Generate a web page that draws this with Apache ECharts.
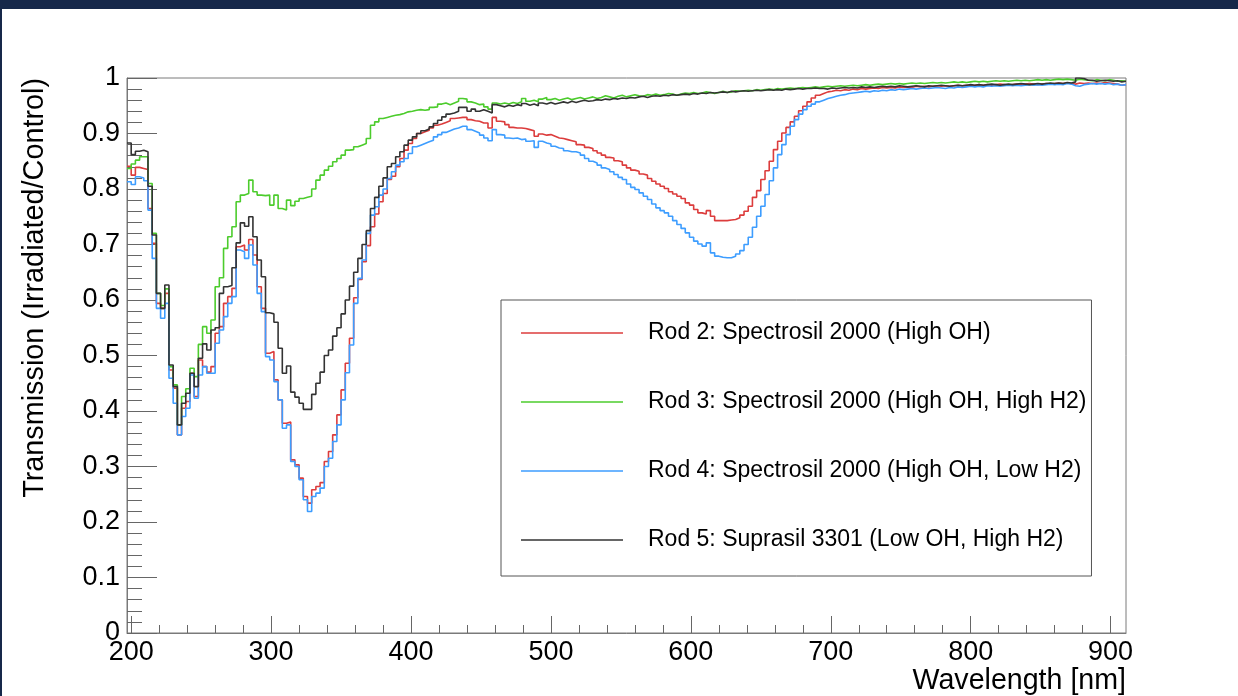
<!DOCTYPE html>
<html>
<head>
    <meta charset="utf-8">
    <title>Transmission after irradiation</title>
    <script src="https://cdn.jsdelivr.net/npm/echarts@6.0.0/dist/echarts.min.js"></script>
    <style>
        html, body { margin: 0; padding: 0; background: #fff; }
        #main { width: 1238px; height: 696px; }
    </style>
</head>
<body>
    <div id="main"></div>
    <script type="text/javascript">
        // histogram binning (nm): first edge, bin width, last edge
        var binStart = 197;
        var binWidth = 3;
        var binEnd = 911;

        var seriesNames = [
            'Rod 2: Spectrosil 2000 (High OH)',
            'Rod 3: Spectrosil 2000 (High OH, High H2)',
            'Rod 4: Spectrosil 2000 (High OH, Low H2)',
            'Rod 5: Suprasil 3301 (Low OH, High H2)'
        ];
        var seriesColors = ['#dc3c3c', '#4ccc2c', '#3d9dff', '#333333'];

        var rod2 = [
            0.841, 0.825, 0.839, 0.837, 0.835, 0.765, 0.702, 0.594, 0.585, 0.612,
            0.474, 0.441, 0.357, 0.405, 0.417, 0.468, 0.426, 0.492, 0.48, 0.47,
            0.48, 0.54, 0.552, 0.594, 0.606, 0.621, 0.696, 0.699, 0.69, 0.709,
            0.681, 0.624, 0.585, 0.504, 0.507, 0.456, 0.42, 0.378, 0.38, 0.312,
            0.303, 0.279, 0.246, 0.234, 0.258, 0.264, 0.271, 0.309, 0.327, 0.357,
            0.393, 0.438, 0.486, 0.531, 0.604, 0.637, 0.669, 0.698, 0.732, 0.755,
            0.777, 0.792, 0.817, 0.823, 0.84, 0.855, 0.87, 0.882, 0.891, 0.9,
            0.903, 0.906, 0.91, 0.915, 0.917, 0.92, 0.923, 0.927, 0.928, 0.929,
            0.929, 0.925, 0.923, 0.922, 0.919, 0.919, 0.91, 0.929, 0.922, 0.921,
            0.916, 0.911, 0.91, 0.91, 0.909, 0.907, 0.905, 0.895, 0.899, 0.897,
            0.898, 0.895, 0.892, 0.891, 0.889, 0.887, 0.885, 0.88, 0.879, 0.875,
            0.873, 0.869, 0.865, 0.861, 0.857, 0.856, 0.851, 0.849, 0.843, 0.838,
            0.834, 0.832, 0.827, 0.825, 0.819, 0.814, 0.809, 0.805, 0.801, 0.795,
            0.791, 0.787, 0.783, 0.775, 0.771, 0.763, 0.757, 0.755, 0.761, 0.751,
            0.743, 0.743, 0.743, 0.744, 0.745, 0.748, 0.753, 0.76, 0.769, 0.785,
            0.797, 0.817, 0.833, 0.85, 0.871, 0.886, 0.901, 0.911, 0.921, 0.931,
            0.941, 0.949, 0.957, 0.964, 0.969, 0.972, 0.975, 0.976, 0.978, 0.977,
            0.979, 0.978, 0.98, 0.979, 0.981, 0.98, 0.981, 0.982, 0.981, 0.983,
            0.982, 0.983, 0.982, 0.984, 0.983, 0.984, 0.983, 0.985, 0.984, 0.985,
            0.984, 0.985, 0.986, 0.985, 0.986, 0.985, 0.986, 0.987, 0.986, 0.987,
            0.986, 0.987, 0.988, 0.987, 0.988, 0.987, 0.988, 0.989, 0.988, 0.987,
            0.988, 0.989, 0.988, 0.989, 0.99, 0.989, 0.988, 0.989, 0.99, 0.989,
            0.99, 0.991, 0.99, 0.991, 0.99, 0.989, 0.991, 0.99, 0.991, 0.99,
            0.991, 0.99, 0.992, 0.991, 0.99, 0.989, 0.987, 0.988
        ];

        var rod3 = [
            0.837, 0.845, 0.852, 0.858, 0.858, 0.81, 0.72, 0.612, 0.59, 0.62,
            0.48, 0.447, 0.375, 0.426, 0.44, 0.477, 0.462, 0.52, 0.552, 0.54,
            0.564, 0.624, 0.64, 0.693, 0.714, 0.732, 0.777, 0.789, 0.792, 0.816,
            0.795, 0.789, 0.788, 0.789, 0.771, 0.789, 0.765, 0.762, 0.78, 0.77,
            0.778, 0.783, 0.785, 0.787, 0.8, 0.816, 0.825, 0.834, 0.841, 0.849,
            0.855, 0.861, 0.87, 0.871, 0.876, 0.879, 0.882, 0.891, 0.915, 0.921,
            0.927, 0.929, 0.931, 0.933, 0.934, 0.936, 0.939, 0.94, 0.942, 0.943,
            0.942, 0.943, 0.947, 0.948, 0.953, 0.955, 0.952, 0.955, 0.958, 0.963,
            0.962, 0.957, 0.955, 0.952, 0.953, 0.948, 0.944, 0.955, 0.953, 0.955,
            0.953, 0.956, 0.954, 0.957, 0.963, 0.958, 0.96, 0.957, 0.962, 0.965,
            0.961, 0.963, 0.96, 0.962, 0.964, 0.961, 0.963, 0.965, 0.962, 0.964,
            0.966, 0.963, 0.965, 0.968, 0.966, 0.964, 0.967, 0.969, 0.966, 0.968,
            0.97, 0.968, 0.967, 0.97, 0.969, 0.971, 0.969, 0.97, 0.972, 0.971,
            0.969, 0.971, 0.973, 0.972, 0.974, 0.972, 0.973, 0.975, 0.974, 0.972,
            0.974, 0.976, 0.974, 0.975, 0.977, 0.976, 0.977, 0.978, 0.977, 0.979,
            0.978, 0.979, 0.98, 0.979, 0.981, 0.98, 0.981, 0.982, 0.981, 0.982,
            0.983, 0.982, 0.983, 0.984, 0.983, 0.984, 0.985, 0.984, 0.985, 0.986,
            0.985, 0.986, 0.987, 0.986, 0.987, 0.988, 0.987, 0.988, 0.989, 0.988,
            0.989, 0.99, 0.989, 0.99, 0.989, 0.99, 0.991, 0.99, 0.991, 0.99,
            0.991, 0.992, 0.991, 0.992, 0.991, 0.992, 0.993, 0.992, 0.993, 0.992,
            0.993, 0.994, 0.993, 0.994, 0.993, 0.994, 0.995, 0.994, 0.995, 0.994,
            0.995, 0.996, 0.995, 0.996, 0.995, 0.996, 0.997, 0.996, 0.997, 0.996,
            0.997, 0.998, 0.997, 0.998, 0.997, 0.996, 0.998, 0.997, 0.996, 0.995,
            0.997, 0.996, 0.995, 0.997, 0.996, 0.994, 0.995, 0.994
        ];

        var rod4 = [
            0.813, 0.808, 0.822, 0.82, 0.815, 0.762, 0.675, 0.585, 0.567, 0.594,
            0.459, 0.414, 0.357, 0.39, 0.405, 0.465, 0.423, 0.465, 0.48, 0.468,
            0.468, 0.522, 0.546, 0.57, 0.594, 0.606, 0.69, 0.687, 0.675, 0.699,
            0.663, 0.612, 0.579, 0.498, 0.492, 0.453, 0.42, 0.369, 0.375, 0.309,
            0.3, 0.276, 0.24, 0.219, 0.246, 0.252, 0.261, 0.3, 0.315, 0.345,
            0.375, 0.42, 0.469, 0.519, 0.594, 0.639, 0.672, 0.72, 0.753, 0.768,
            0.789, 0.8, 0.819, 0.831, 0.843, 0.849, 0.855, 0.864, 0.876, 0.879,
            0.882, 0.885, 0.888, 0.894, 0.898, 0.902, 0.905, 0.908, 0.91, 0.913,
            0.913, 0.907, 0.904, 0.901, 0.897, 0.892, 0.887, 0.907, 0.898, 0.897,
            0.892, 0.891, 0.892, 0.889, 0.89, 0.886, 0.887, 0.875, 0.886, 0.883,
            0.881, 0.877, 0.874, 0.873, 0.869, 0.867, 0.867, 0.865, 0.861, 0.855,
            0.85, 0.847, 0.843, 0.838, 0.835, 0.831, 0.826, 0.821, 0.817, 0.809,
            0.803, 0.799, 0.793, 0.787, 0.781, 0.773, 0.766, 0.761, 0.757, 0.751,
            0.743, 0.736, 0.729, 0.721, 0.713, 0.706, 0.701, 0.697, 0.703, 0.685,
            0.679, 0.677, 0.676, 0.676, 0.679, 0.683, 0.689, 0.7, 0.713, 0.731,
            0.751, 0.769, 0.79, 0.815, 0.838, 0.862, 0.88, 0.898, 0.913, 0.925,
            0.935, 0.943, 0.949, 0.953, 0.957, 0.96, 0.963, 0.965, 0.967, 0.969,
            0.97, 0.972, 0.973, 0.974, 0.975, 0.976, 0.975, 0.977, 0.976, 0.978,
            0.977, 0.979, 0.978, 0.98, 0.979, 0.98, 0.981, 0.98, 0.981, 0.982,
            0.981, 0.982, 0.983, 0.982, 0.981, 0.983, 0.982, 0.984, 0.983, 0.984,
            0.985, 0.984, 0.985, 0.984, 0.986, 0.985, 0.986, 0.985, 0.986, 0.987,
            0.986, 0.987, 0.986, 0.987, 0.988, 0.987, 0.988, 0.987, 0.988, 0.989,
            0.988, 0.989, 0.988, 0.99, 0.989, 0.986, 0.985, 0.988, 0.989, 0.99,
            0.989, 0.99, 0.989, 0.99, 0.988, 0.989, 0.987, 0.988
        ];

        var rod5 = [
            0.883, 0.862, 0.868, 0.87, 0.867, 0.805, 0.717, 0.612, 0.585, 0.627,
            0.483, 0.444, 0.375, 0.414, 0.432, 0.468, 0.444, 0.495, 0.521, 0.51,
            0.546, 0.55, 0.612, 0.624, 0.626, 0.658, 0.703, 0.739, 0.733, 0.75,
            0.714, 0.672, 0.642, 0.577, 0.575, 0.56, 0.513, 0.468, 0.481, 0.434,
            0.425, 0.414, 0.403, 0.403, 0.43, 0.45, 0.47, 0.5, 0.51, 0.535,
            0.55, 0.575, 0.6, 0.625, 0.65, 0.675, 0.7, 0.725, 0.765, 0.785,
            0.805, 0.82, 0.84, 0.846, 0.858, 0.867, 0.879, 0.888, 0.894, 0.9,
            0.905, 0.908, 0.912, 0.918, 0.924, 0.93, 0.935, 0.937, 0.94, 0.947,
            0.947, 0.94, 0.944, 0.94, 0.943, 0.94, 0.937, 0.952, 0.95, 0.948,
            0.951, 0.949, 0.952, 0.95, 0.954, 0.951, 0.953, 0.95, 0.955, 0.953,
            0.956, 0.953, 0.955, 0.957, 0.955, 0.958, 0.956, 0.958, 0.96, 0.958,
            0.959, 0.961, 0.96, 0.962, 0.961, 0.963, 0.962, 0.964, 0.963, 0.965,
            0.964, 0.966, 0.967, 0.965, 0.967, 0.968, 0.967, 0.969, 0.968, 0.97,
            0.969, 0.97, 0.971, 0.97, 0.972, 0.971, 0.973, 0.972, 0.974, 0.973,
            0.974, 0.975, 0.974, 0.976, 0.975, 0.976, 0.977, 0.976, 0.977, 0.978,
            0.977, 0.978, 0.979, 0.978, 0.979, 0.978, 0.98, 0.979, 0.98, 0.981,
            0.98, 0.981, 0.981, 0.982, 0.981, 0.981, 0.98, 0.982, 0.981, 0.982,
            0.983, 0.982, 0.983, 0.982, 0.984, 0.983, 0.984, 0.983, 0.984, 0.985,
            0.984, 0.985, 0.984, 0.986, 0.985, 0.984, 0.985, 0.986, 0.985, 0.984,
            0.986, 0.985, 0.986, 0.987, 0.986, 0.985, 0.986, 0.987, 0.986, 0.987,
            0.988, 0.987, 0.988, 0.987, 0.988, 0.989, 0.988, 0.987, 0.988, 0.989,
            0.988, 0.989, 0.99, 0.989, 0.988, 0.989, 0.99, 0.989, 0.99, 0.991,
            0.99, 0.991, 0.99, 0.992, 0.991, 0.993, 1.0, 0.999, 0.996, 0.996,
            0.994, 0.995, 0.996, 0.995, 0.994, 0.995, 0.993, 0.994
        ];

        var xMajorTicks = [200, 300, 400, 500, 600, 700, 800, 900];
        var font = 'Liberation Sans, Arial, sans-serif';

        // minor x ticks every 20 nm
        var xMinorTicks = [];
        for (var t = 220; t < 900; t += 20) {
            if (t % 100 !== 0) xMinorTicks.push(t);
        }

        // turn bin contents into step points [left edge, value] + closing edge
        function toSteps(values) {
            var pts = values.map(function (v, i) {
                return [binStart + i * binWidth, v];
            });
            pts.push([binEnd, values[values.length - 1]]);
            return pts;
        }

        var allRods = [rod2, rod3, rod4, rod5];

        var chart = echarts.init(document.getElementById('main'));

        var option = {
            animation: false,
            backgroundColor: '#fff',
            grid: {
                left: 127,
                right: 112,
                top: 78,
                bottom: 63,
                show: true,
                borderColor: '#7a7a7a',
                borderWidth: 1,
                backgroundColor: 'transparent'
            },
            legend: {
                data: seriesNames,
                orient: 'vertical',
                left: 501,
                top: 300,
                icon: 'rect',
                itemWidth: 102,
                itemHeight: 1.6,
                itemGap: 45,
                padding: [21, 5, 24, 20],
                backgroundColor: '#fff',
                borderColor: '#555',
                borderWidth: 1,
                selectedMode: false,
                textStyle: {
                    fontFamily: font,
                    fontSize: 23,
                    lineHeight: 24,
                    color: '#000',
                    padding: [0, 0, 0, 20]
                }
            },
            xAxis: [
                {
                    type: 'value',
                    min: binStart,
                    max: binEnd,
                    position: 'bottom',
                    axisLine: { show: true, lineStyle: { color: '#7a7a7a', width: 1 } },
                    axisTick: {
                        show: true,
                        inside: true,
                        length: 17,
                        customValues: xMajorTicks,
                        lineStyle: { color: '#666' }
                    },
                    axisLabel: {
                        customValues: xMajorTicks,
                        fontFamily: font,
                        fontSize: 27,
                        color: '#000',
                        margin: 6
                    },
                    splitLine: { show: false }
                },
                {
                    type: 'value',
                    min: binStart,
                    max: binEnd,
                    position: 'bottom',
                    axisLine: { show: false },
                    axisTick: {
                        show: true,
                        inside: true,
                        length: 8,
                        customValues: xMinorTicks,
                        lineStyle: { color: '#666' }
                    },
                    axisLabel: { show: false },
                    splitLine: { show: false }
                }
            ],
            yAxis: {
                type: 'value',
                min: 0,
                max: 1,
                interval: 0.1,
                axisLine: { show: true, lineStyle: { color: '#7a7a7a', width: 1 } },
                axisTick: {
                    show: true,
                    inside: true,
                    length: 30,
                    lineStyle: { color: '#666' }
                },
                minorTick: {
                    show: true,
                    splitNumber: 5,
                    length: 15,
                    lineStyle: { color: '#666' }
                },
                axisLabel: {
                    fontFamily: font,
                    fontSize: 27,
                    color: '#000',
                    margin: 7
                },
                splitLine: { show: false },
                minorSplitLine: { show: false }
            },
            graphic: [
                { type: 'rect', left: 0, top: 0, shape: { width: 1238, height: 9 }, style: { fill: '#16284a' } },
                { type: 'rect', left: 0, top: 0, shape: { width: 2, height: 696 }, style: { fill: '#16284a' } },
                {
                    type: 'text',
                    x: 35,
                    y: 78,
                    rotation: Math.PI / 2,
                    style: {
                        text: 'Transmission (Irradiated/Control)',
                        fontFamily: font,
                        fontSize: 28.8,
                        fill: '#000',
                        align: 'right',
                        verticalAlign: 'middle'
                    }
                },
                {
                    type: 'text',
                    x: 1126,
                    y: 681,
                    style: {
                        text: 'Wavelength [nm]',
                        fontFamily: font,
                        fontSize: 28.6,
                        fill: '#000',
                        align: 'right',
                        verticalAlign: 'middle'
                    }
                }
            ],
            series: seriesNames.map(function (name, i) {
                return {
                    name: name,
                    type: 'line',
                    step: 'end',
                    symbol: 'none',
                    xAxisIndex: 0,
                    clip: true,
                    color: seriesColors[i],
                    lineStyle: { color: seriesColors[i], width: 1.6 },
                    emphasis: { disabled: true },
                    data: toSteps(allRods[i])
                };
            })
        };

        chart.setOption(option);
    </script>
</body>
</html>
